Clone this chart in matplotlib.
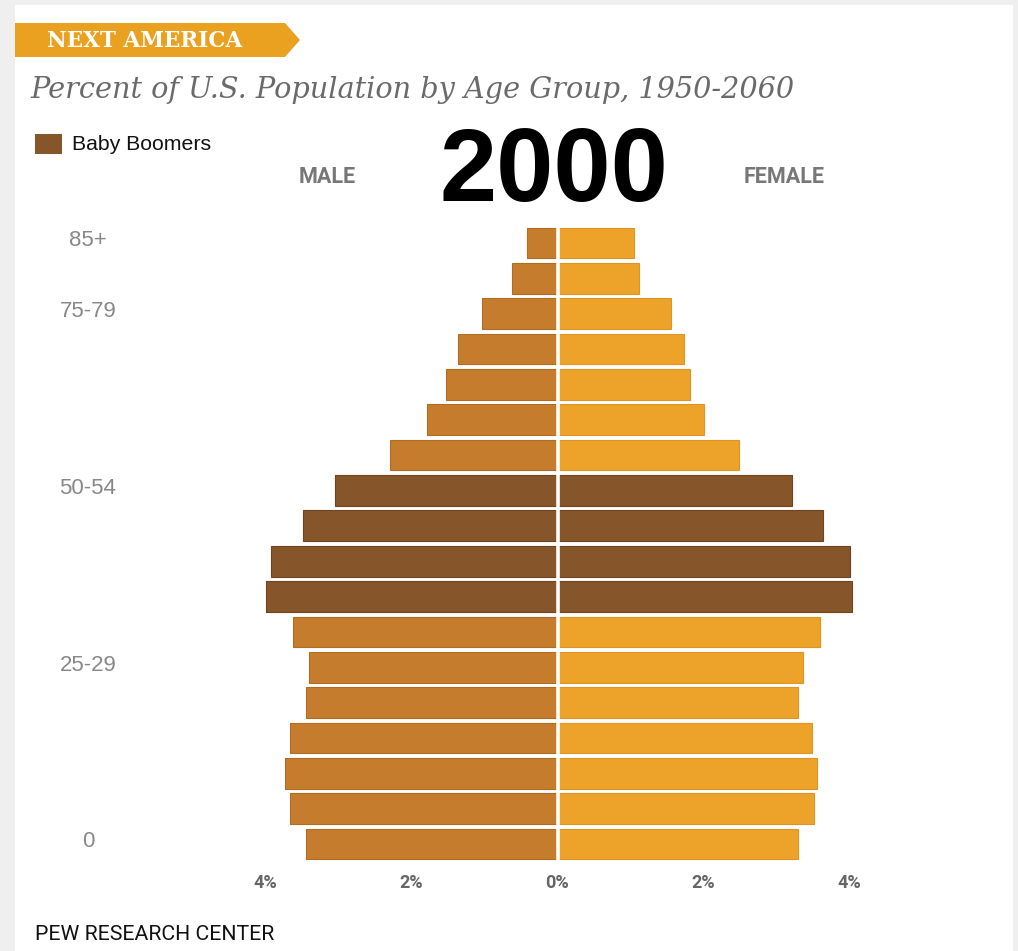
import matplotlib
matplotlib.use("Agg")
import matplotlib.pyplot as plt
from matplotlib.patches import Polygon, Rectangle
import numpy as np

# age groups, top to bottom
ages = ["85+", "80-84", "75-79", "70-74", "65-69", "60-64", "55-59", "50-54",
        "45-49", "40-44", "35-39", "30-34", "25-29", "20-24", "15-19",
        "10-14", "5-9", "0-4"]
male = [0.42, 0.63, 1.04, 1.36, 1.53, 1.79, 2.29, 3.05, 3.49, 3.93, 3.99,
        3.63, 3.41, 3.44, 3.67, 3.73, 3.67, 3.44]
female = [1.05, 1.11, 1.55, 1.73, 1.81, 2.01, 2.48, 3.21, 3.64, 4.00, 4.03,
          3.59, 3.36, 3.30, 3.48, 3.56, 3.52, 3.30]
boomers = ["50-54", "45-49", "40-44", "35-39"]

shown_ages = ["85+", "75-79", "50-54", "25-29", "0-4"]
shown_labels = ["85+", "75-79", "50-54", "25-29", "0"]
xticks = [-4, -2, 0, 2, 4]
xtick_labels = ["4%", "2%", "0%", "2%", "4%"]

c_male = "#C57D2D"
c_female = "#EDA22A"
c_boom = "#87552A"

W, H = 1018, 951
fig = plt.figure(figsize=(W / 100, H / 100), dpi=100, facecolor="#EFEFEF")


def px(x, y):
    return (x / W, 1 - y / H)


# white panel
fig.patches.append(Rectangle(px(15, 951), (1013 - 15) / W, (951 - 5) / H,
                             transform=fig.transFigure, facecolor="white",
                             edgecolor="none", zorder=-5))
# header tag
tag = [px(15, 23), px(285, 23), px(300, 40), px(285, 57), px(15, 57)]
fig.patches.append(Polygon(tag, closed=True, transform=fig.transFigure,
                           facecolor="#E9A11F", edgecolor="none", zorder=-4))
fig.text(*px(47, 41), "NEXT AMERICA", color="white", fontsize=15.5,
         fontweight="bold", family="DejaVu Serif", va="center", ha="left")
fig.text(*px(30, 90), "Percent of U.S. Population by Age Group, 1950-2060",
         color="#6A6A6A", fontsize=20.7, style="italic", family="DejaVu Serif",
         va="center", ha="left")

# legend
fig.patches.append(Rectangle(px(35, 154), 27 / W, 20 / H,
                             transform=fig.transFigure, facecolor=c_boom,
                             edgecolor="none", zorder=-4))
fig.text(*px(72, 145), "Baby Boomers", fontsize=15.3, color="#111111",
         family="Liberation Sans", va="center", ha="left")

fig.text(*px(554, 174), "2000", fontsize=74, fontweight="bold",
         color="black", family="Liberation Sans", va="center", ha="center")
fig.text(*px(327, 177), "MALE", fontsize=15.5, fontweight="bold",
         color="#777777", family="Roboto", va="center", ha="center")
fig.text(*px(784, 177), "FEMALE", fontsize=15.5, fontweight="bold",
         color="#777777", family="Roboto", va="center", ha="center")
fig.text(*px(35, 935), "PEW RESEARCH CENTER", fontsize=15.3,
         color="#111111", family="Roboto", va="center", ha="left")

# axes: 73 px per percent, rows 35.35 px apart
ax_l, ax_r = 557.5 - 4.5 * 73, 557.5 + 4.5 * 73
ax_top, ax_bot = 243 - 0.6 * 35.35, 844 + 0.6 * 35.35
ax = fig.add_axes([ax_l / W, 1 - ax_bot / H, (ax_r - ax_l) / W,
                   (ax_bot - ax_top) / H])
ax.set_facecolor("none")
ax.set_zorder(2)

n = len(ages)
ypos = np.arange(n)[::-1]
mcols = [c_boom if a in boomers else c_male for a in ages]
fcols = [c_boom if a in boomers else c_female for a in ages]
medge = ["#6E4420" if a in boomers else "#B06D22" for a in ages]
fedge = ["#6E4420" if a in boomers else "#DE9322" for a in ages]

ax.barh(ypos, -np.array(male), height=0.87, color=mcols, edgecolor=medge,
        linewidth=0.8)
ax.barh(ypos, female, height=0.87, color=fcols, edgecolor=fedge,
        linewidth=0.8)
ax.axvline(0, color="white", lw=2.6)

ax.set_xlim(-4.5, 4.5)
ax.set_ylim(-0.6, n - 0.4)
ax.set_xticks(xticks)
ax.set_xticklabels(xtick_labels, fontsize=13, fontweight="bold",
                   color="#666666", family="Roboto")
ax.set_yticks([ypos[ages.index(a)] + 0.13 for a in shown_ages])
ax.set_yticklabels(shown_labels, fontsize=16, color="#888888",
                   family="Liberation Sans")
for t in ax.get_yticklabels():
    t.set_horizontalalignment("center")
ax.tick_params(axis="y", length=0, pad=(ax_l - 88) * 0.72)
ax.tick_params(axis="x", length=0, pad=6)
for s in ax.spines.values():
    s.set_visible(False)

fig.savefig("out.png", dpi=100, facecolor=fig.get_facecolor())
